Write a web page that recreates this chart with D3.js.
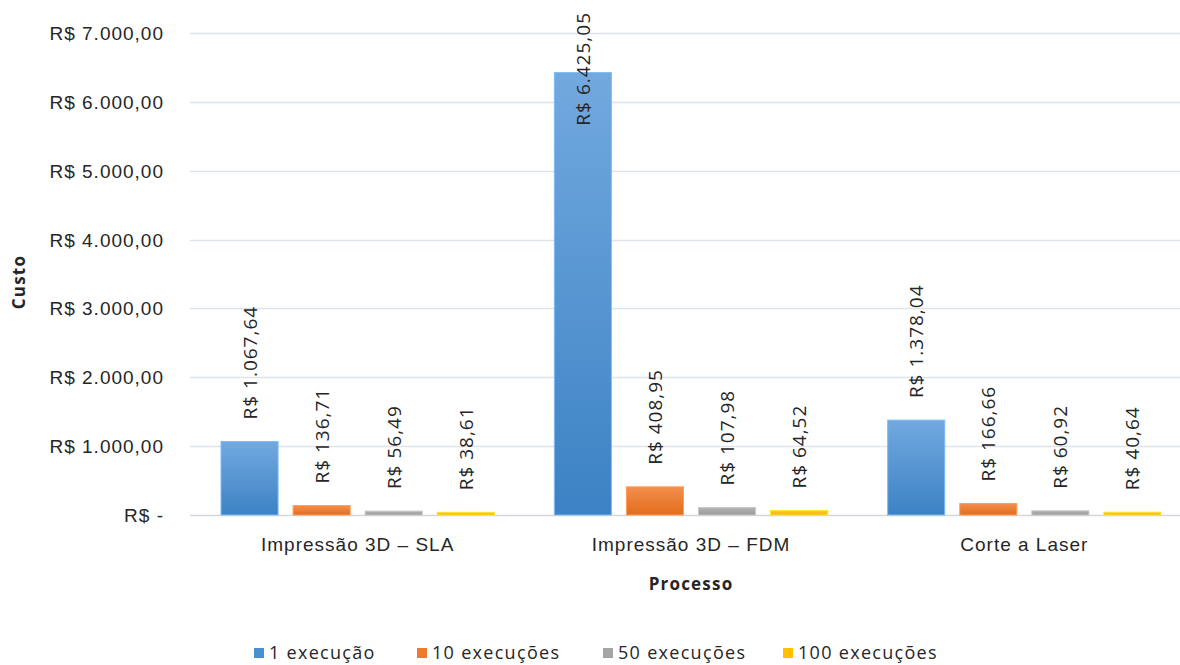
<!DOCTYPE html>
<html lang="pt-BR">
<head>
<meta charset="utf-8">
<script src="https://cdn.jsdelivr.net/npm/d3@7"></script>
<style>
  html, body { margin: 0; padding: 0; background: #fff; }
  svg { display: block; font-family: "Open Sans", "Noto Sans", sans-serif; }
  .lbl { font-size: 19px; letter-spacing: 1px; fill: #262626; }
  .leg { font-size: 18px; letter-spacing: 1.3px; fill: #262626; }
  .ttl { font-size: 17px; letter-spacing: 1.2px; font-weight: bold; fill: #262626; }
</style>
</head>
<body>
<svg id="chart" width="1180" height="665"></svg>
<script>
// Custo por processo de fabricação, por número de execuções
const processos = ["Impressão 3D – SLA", "Impressão 3D – FDM", "Corte a Laser"];
const series = ["1 execução", "10 execuções", "50 execuções", "100 execuções"];
const exec1 = [1067.64, 6425.05, 1378.04];
const exec10 = [136.71, 408.95, 166.66];
const exec50 = [56.49, 107.98, 60.92];
const exec100 = [38.61, 64.52, 40.64];
const yTicks = [0, 1000, 2000, 3000, 4000, 5000, 6000, 7000];

const seriesValues = [exec1, exec10, exec50, exec100];
const colorsTop = ["#72a9df", "#f38f4d", "#b3b3b3", "#ffca28"];
const colorsBottom = ["#3c82c4", "#e36c1c", "#9a9a9a", "#f5b800"];
const legendColors = ["#4a8fd0", "#ee7a2e", "#a5a5a5", "#ffc000"];

const svg = d3.select("#chart");
const W = 1180, H = 665;
const plot = { left: 191, right: 1191, top: 33, bottom: 515 };

// Formatação em Real brasileiro
const brl = d3.formatLocale({ decimal: ",", thousands: ".", grouping: [3], currency: ["R$ ", ""] });
const fmt = brl.format(",.2f");
const money = v => v === 0 ? "R$ -" : "R$ " + fmt(v);

const x0 = d3.scaleBand().domain(processos).range([plot.left, plot.right]).padding(0);
const x1 = d3.scaleBand().domain(series).range([30, x0.bandwidth() - 30]).paddingInner(0.208).paddingOuter(0);
const y = d3.scaleLinear().domain([0, 7000]).range([plot.bottom, plot.top]);

// Gradientes verticais das barras
const defs = svg.append("defs");
series.forEach((s, i) => {
  const g = defs.append("linearGradient").attr("id", "grad" + i)
    .attr("x1", 0).attr("y1", 0).attr("x2", 0).attr("y2", 1);
  g.append("stop").attr("offset", "0%").attr("stop-color", colorsTop[i]);
  g.append("stop").attr("offset", "100%").attr("stop-color", colorsBottom[i]);
});

// Linhas de grade
svg.append("g").selectAll("line").data(yTicks).join("line")
  .attr("x1", plot.left - 1).attr("x2", W)
  .attr("y1", d => Math.round(y(d)) + 0.5).attr("y2", d => Math.round(y(d)) + 0.5)
  .attr("stroke", d => d === 0 ? "#d4d7dc" : "#dfe3ea").attr("stroke-width", 1.5);

// Eixo Y
const yAxis = svg.append("g").attr("transform", `translate(${plot.left - 27},0)`)
  .call(d3.axisLeft(y).tickValues(yTicks).tickFormat(money).tickSize(0).tickPadding(0));
yAxis.select(".domain").remove();
yAxis.selectAll("text").attr("class", "lbl").attr("font-size", null).attr("font-family", null)
  .attr("fill", null).attr("dy", "0.34em");

// Eixo X
const xAxis = svg.append("g").attr("transform", `translate(0,${plot.bottom})`)
  .call(d3.axisBottom(x0).tickSize(0).tickPadding(23));
xAxis.select(".domain").remove();
xAxis.selectAll("text").attr("class", "lbl").attr("font-size", null).attr("font-family", null)
  .attr("fill", null);

// Títulos dos eixos
svg.append("text").attr("class", "ttl").attr("x", (plot.left + plot.right) / 2).attr("y", 590)
  .attr("text-anchor", "middle").text("Processo");
svg.append("text").attr("class", "ttl")
  .attr("transform", `translate(25,${(plot.top + plot.bottom) / 2 + 8}) rotate(-90)`)
  .attr("text-anchor", "middle").text("Custo");

// Barras
const rows = [];
processos.forEach((p, pi) => series.forEach((s, si) => rows.push({ p, s, si, v: seriesValues[si][pi] })));

svg.append("g").selectAll("rect").data(rows).join("rect")
  .attr("x", d => x0(d.p) + x1(d.s))
  .attr("y", d => y(d.v))
  .attr("width", x1.bandwidth())
  .attr("height", d => Math.max(y(0) - y(d.v), 1))
  .attr("fill", d => `url(#grad${d.si})`)
  .attr("stroke", d => d3.color(colorsTop[d.si]).brighter(0.3))
  .attr("stroke-width", 1);

// Rótulos de dados (verticais, acima das barras, limitados ao topo)
const labels = svg.append("g").selectAll("text").data(rows).join("text")
  .attr("class", "lbl")
  .attr("text-anchor", "start")
  .text(d => money(d.v));
labels.each(function (d) {
  const len = this.getComputedTextLength();
  let base = y(d.v) - 22;
  if (base - len < 12) base = 12 + len;
  const cx = x0(d.p) + x1(d.s) + x1.bandwidth() / 2;
  d3.select(this).attr("transform", `translate(${cx + 7},${base}) rotate(-90)`);
});

// Legenda
const legendX = [254, 417, 603, 783];
const legend = svg.append("g").selectAll("g").data(series).join("g")
  .attr("transform", (d, i) => `translate(${legendX[i]},653)`);
legend.append("rect").attr("x", 0).attr("y", -5).attr("width", 10).attr("height", 10)
  .attr("fill", (d, i) => legendColors[i]);
legend.append("text").attr("class", "leg").attr("x", 15).attr("y", 0).attr("dy", "0.36em")
  .text(d => d);
</script>
</body>
</html>
